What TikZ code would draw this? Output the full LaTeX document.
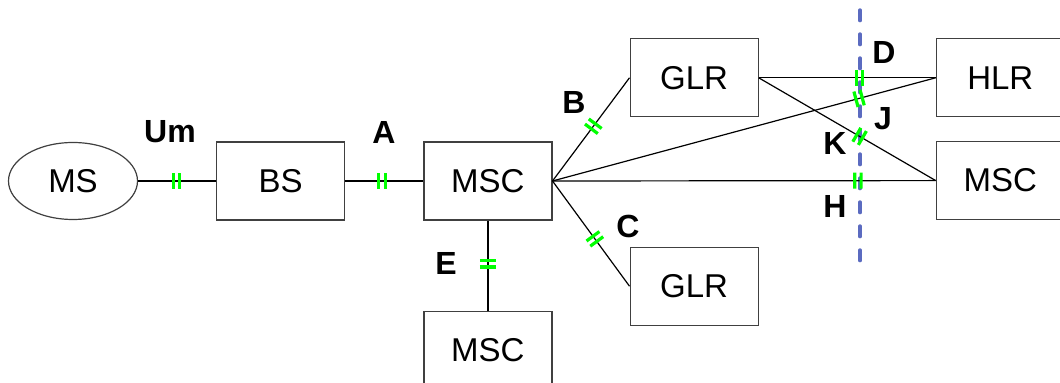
\documentclass[tikz,border=0pt]{standalone}
\usepackage{fontspec}
\setmainfont{Liberation Sans}
\usetikzlibrary{positioning,shapes.geometric}
\definecolor{ifgreen}{HTML}{00FF00}
\definecolor{borderblue}{HTML}{5B6BC0}
\definecolor{boxgrey}{HTML}{404040}

% interface mark: two short bars across a link
\tikzset{
  iface/.pic={
    \draw[ifgreen,line width=1.6pt] (-1.6pt,-4pt) -- (-1.6pt,4pt)
      (1.6pt,-4pt) -- (1.6pt,4pt);
  }
}

\begin{document}
\begin{tikzpicture}[
x=0.5pt,y=-0.5pt,
node distance=45pt and 39pt,
every node/.style={font=\fontsize{16.5}{19}\selectfont},
box/.style={draw=boxgrey,line width=0.6pt,minimum width=64pt,
minimum height=39pt,inner sep=0pt},
oval/.style={box,ellipse,minimum width=64.5pt,minimum height=38.5pt},
lbl/.style={font=\fontsize{16}{19}\selectfont\bfseries},
link/.style={draw=black,line width=0.6pt},
border/.style={draw=borderblue,line width=1.7pt,
dash pattern=on 5.3pt off 6.7pt,line cap=round}
]
\path[use as bounding box,clip] (0,0) rectangle (1060,383);

\node[oval] (ms) at (73,181) {MS};
\node[box,right=of ms] (bs) {BS};
\node[box,right=of bs] (msc) {MSC};
\node[box,below=of msc] (msce) {MSC};
\node[box,above right=12pt and 38.5pt of msc] (glrb) {GLR};
\node[box,below right=13pt and 38.5pt of msc] (glrc) {GLR};
\node[box,right=88.5pt of glrb] (hlr) {HLR};
\node[box,below=11.8pt of hlr] (mscr) {MSC};

% network border
\coordinate (bordertop) at (860,10);
\coordinate (borderbot) at (860,262);
\draw[border] (bordertop) -- (borderbot);

\draw[link] (ms) -- (bs) pic[pos=.49,sloped]{iface};
\draw[link] (bs) -- (msc) pic[pos=.47,sloped]{iface};
\draw[link] (msc) -- (msce) pic[pos=.48,sloped]{iface};
\draw[link] (msc.east) -- (glrb.west) pic[pos=.53,sloped]{iface};
\draw[link] (msc.east) -- (glrc.west) pic[pos=.55,sloped]{iface};
\draw[link] (glrb.east) -- (hlr.west) pic[pos=.57,sloped]{iface};
\draw[link] (glrb.east) -- (mscr.west) pic[pos=.57,sloped]{iface};
\draw[link] (msc.east) -- (hlr.west) pic[pos=.8,sloped]{iface};
\draw[link] (msc.east) -- (mscr.west) pic[pos=.797,sloped]{iface};

\node[lbl] (lum) at (170,132) {Um};
\node[lbl] (la) at (384,132) {A};
\node[lbl] (lb) at (574,103) {B};
\node[lbl] (lc) at (628,226) {C};
\node[lbl] (ld) at (884,53) {D};
\node[lbl] (lj) at (883,119) {J};
\node[lbl] (lk) at (835,144) {K};
\node[lbl] (lh) at (835,206) {H};
\node[lbl] (le) at (446,263) {E};
\end{tikzpicture}
\end{document}
